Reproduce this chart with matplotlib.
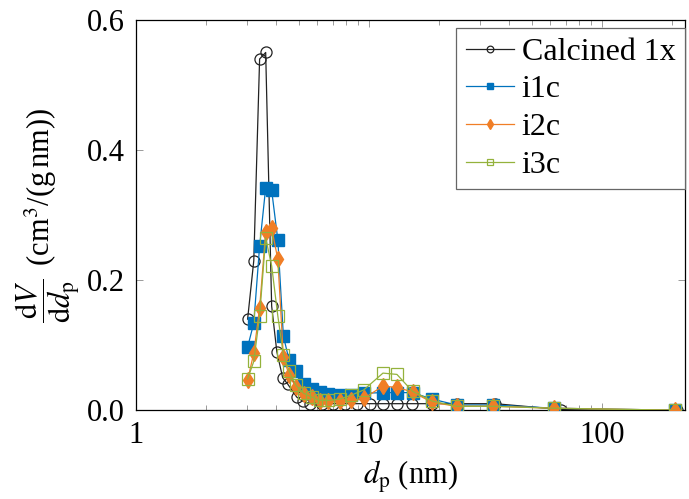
import numpy as np
import matplotlib
matplotlib.use("Agg")
import matplotlib.pyplot as plt
from matplotlib.ticker import FixedLocator, FuncFormatter, LogLocator, NullFormatter

plt.rcParams['font.family'] = ['Liberation Serif', 'DejaVu Serif']
plt.rcParams['mathtext.fontset'] = 'stix'

# pore size distribution
d_calc = [3.02, 3.21, 3.40, 3.61, 3.83, 4.03, 4.27, 4.49, 4.91, 5.20, 5.57, 6.3, 7.0,
          7.9, 8.9, 10.1, 11.5, 13.2, 15.3, 18.7, 23.8, 34.8, 67.0, 211.0]
v_calc = [0.140, 0.230, 0.540, 0.550, 0.160, 0.090, 0.050, 0.040, 0.020, 0.014, 0.010,
          0.010, 0.010, 0.010, 0.010, 0.010, 0.010, 0.010, 0.010, 0.010, 0.010, 0.010,
          0.001, 0.000]

d_i = [3.02, 3.21, 3.40, 3.61, 3.83, 4.07, 4.30, 4.55, 4.88, 5.25, 5.70, 6.15, 6.7,
       7.5, 8.4, 9.5, 11.5, 13.2, 15.4, 18.7, 23.8, 34.0, 62.6, 206.0]
v_i1c = [0.097, 0.134, 0.252, 0.342, 0.338, 0.262, 0.114, 0.077, 0.060, 0.040, 0.032,
         0.028, 0.025, 0.023, 0.023, 0.026, 0.027, 0.027, 0.027, 0.017, 0.008, 0.008,
         0.003, 0.000]
v_i2c = [0.046, 0.088, 0.157, 0.274, 0.280, 0.232, 0.082, 0.054, 0.035, 0.025, 0.020,
         0.014, 0.014, 0.014, 0.015, 0.018, 0.037, 0.035, 0.028, 0.012, 0.006, 0.006,
         0.003, 0.000]
v_i3c = [0.048, 0.075, 0.145, 0.265, 0.222, 0.145, 0.085, 0.060, 0.038, 0.026, 0.020,
         0.015, 0.015, 0.017, 0.023, 0.031, 0.057, 0.055, 0.029, 0.014, 0.006, 0.006,
         0.003, 0.000]

fig = plt.figure(figsize=(6.89, 4.99), dpi=100)
ax = fig.add_axes([0.197, 0.178, 0.797, 0.782])

ax.plot(d_calc, v_calc, color='#222222', lw=0.9, marker='o', ms=8, mfc='none',
        mec='#222222', mew=0.9, label='Calcined 1x', zorder=2)
ax.plot(d_i, v_i1c, color='#0072BD', lw=0.9, marker='s', ms=8, mfc='#0072BD',
        mec='#0072BD', label='i1c', zorder=3)
ax.plot(d_i, v_i2c, color='#F07E26', lw=0.9, marker='d', ms=8, mfc='#F07E26',
        mec='#F07E26', label='i2c', zorder=4)
ax.plot(d_i, v_i3c, color='#94B23C', lw=0.9, marker='s', ms=8, mfc='none',
        mec='#94B23C', mew=0.9, label='i3c', zorder=5)

ax.set_xscale('log')
ax.set_xlim(1, 227)
ax.set_ylim(0, 0.6)
ax.xaxis.set_major_locator(FixedLocator([1, 10, 100]))
ax.xaxis.set_major_formatter(FuncFormatter(lambda v, p: '%d' % v))
ax.xaxis.set_minor_locator(LogLocator(base=10, subs=np.arange(2, 10)))
ax.xaxis.set_minor_formatter(NullFormatter())
ax.set_yticks([0.0, 0.2, 0.4, 0.6])
ax.yaxis.set_major_formatter(FuncFormatter(lambda v, p: '%.1f' % v))

ax.tick_params(which='both', direction='in', top=True, right=True, labelsize=22,
               width=0.5, color='0.45')
ax.tick_params(which='major', length=5, pad=8)
ax.tick_params(which='minor', length=3.5)
for s in ax.spines.values():
    s.set_linewidth(0.9)

ax.set_xlabel(r'$d_\mathrm{p}$ (nm)', fontsize=22, labelpad=6)
ax.set_ylabel(r'$\dfrac{\mathrm{d}V}{\mathrm{d}d_\mathrm{p}}\,$ (cm$^3$/(g$\,$nm))',
              fontsize=22, labelpad=3)

leg = ax.legend(loc='upper right', bbox_to_anchor=(1.0, 0.98), borderaxespad=0,
                fontsize=23, fancybox=False, edgecolor='0.4', framealpha=1,
                handlelength=1.5, handletextpad=0.25, labelspacing=0.26,
                borderpad=0.3, markerscale=0.6)
leg.get_frame().set_linewidth(0.9)

fig.savefig('out.png', dpi=100)
